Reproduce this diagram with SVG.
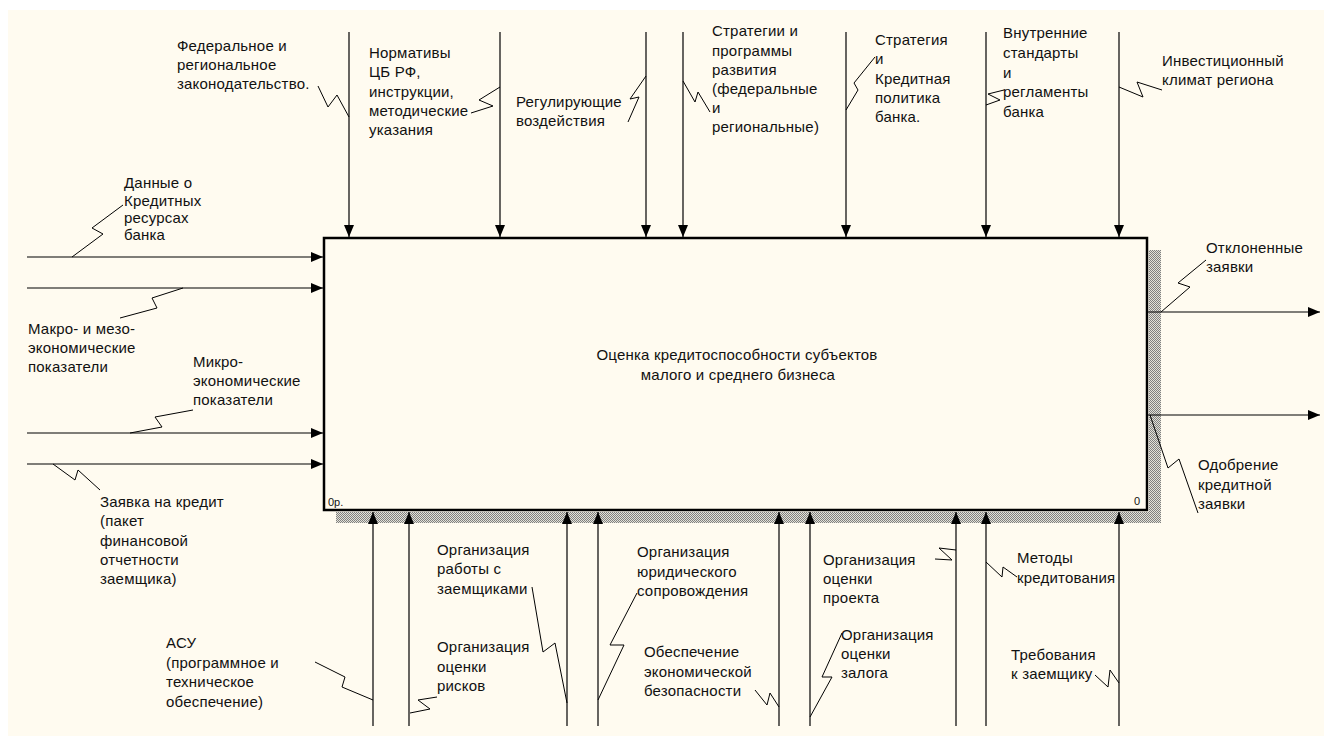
<svg xmlns="http://www.w3.org/2000/svg" width="1324" height="736" viewBox="0 0 1324 736">
<defs>
<style>
text{font-family:"Liberation Sans",Arial,sans-serif;font-size:15px;fill:#111;letter-spacing:0.2px}
.ln{stroke:#000;stroke-width:1.2;fill:none}
.sq{stroke:#000;stroke-width:1;fill:none}
.sm{font-size:11px;letter-spacing:0}
</style>
<marker id="ah" viewBox="0 0 12 10" refX="12" refY="5" markerWidth="12" markerHeight="10" markerUnits="userSpaceOnUse" orient="auto">
<path d="M0,0 L12,5 L0,10 z" fill="#000"/>
</marker>
<pattern id="hatch" width="2" height="2" patternUnits="userSpaceOnUse">
<rect width="2" height="2" fill="#e4e2d8"/>
<rect width="1" height="1" fill="#808080"/>
<rect x="1" y="1" width="1" height="1" fill="#808080"/>
</pattern>
</defs>
<rect width="1324" height="736" fill="#fff"/>
<rect x="8" y="10" width="1316" height="726" fill="#fffbf0"/>

<g id="shadow">
<rect x="1149" y="250" width="12" height="273" fill="url(#hatch)"/>
<rect x="336" y="512" width="825" height="11" fill="url(#hatch)"/>
</g>

<g id="node-A0">
<rect x="324" y="238" width="823" height="272" fill="#fffbf0" stroke="#000" stroke-width="2.5"/>
<text x="737" y="360" text-anchor="middle">Оценка кредитоспособности субъектов</text>
<text x="738" y="380" text-anchor="middle">малого и среднего бизнеса</text>
<text class="sm" x="328" y="506">0р.</text>
<text class="sm" x="1134" y="505">0</text>
</g>

<g id="connectors">
<!-- controls (top) -->
<g id="c1">
<line class="ln" x1="349" y1="32" x2="349" y2="237" marker-end="url(#ah)"/>
<polyline class="sq" points="318,86 328,107 337,95 349,117"/>
<text x="177" y="51">Федеральное и</text>
<text x="177" y="70">региональное</text>
<text x="177" y="89">законодательство.</text>
</g>
<g id="c2">
<line class="ln" x1="500" y1="32" x2="500" y2="237" marker-end="url(#ah)"/>
<polyline class="sq" points="471,113 493,106 479,100 500,87"/>
<text x="369" y="58">Нормативы</text>
<text x="369" y="77">ЦБ РФ,</text>
<text x="369" y="97">инструкции,</text>
<text x="369" y="116">методические</text>
<text x="369" y="135">указания</text>
</g>
<g id="c3">
<line class="ln" x1="646" y1="32" x2="646" y2="237" marker-end="url(#ah)"/>
<polyline class="sq" points="628,122 639,97 630,99 646,76"/>
<text x="516" y="107">Регулирующие</text>
<text x="516" y="126">воздействия</text>
</g>
<g id="c4">
<line class="ln" x1="683" y1="32" x2="683" y2="237" marker-end="url(#ah)"/>
<polyline class="sq" points="683,81 695,102 698,92 710,112"/>
<text x="712" y="36">Стратегии и</text>
<text x="712" y="56">программы</text>
<text x="712" y="75">развития</text>
<text x="712" y="94">(федеральные</text>
<text x="712" y="113">и</text>
<text x="712" y="132">региональные)</text>
</g>
<g id="c5">
<line class="ln" x1="846" y1="32" x2="846" y2="237" marker-end="url(#ah)"/>
<polyline class="sq" points="846,110 858,90 854,83 875,57"/>
<text x="875" y="45">Стратегия</text>
<text x="875" y="64">и</text>
<text x="875" y="84">Кредитная</text>
<text x="875" y="103">политика</text>
<text x="875" y="122">банка.</text>
</g>
<g id="c6">
<line class="ln" x1="986" y1="32" x2="986" y2="237" marker-end="url(#ah)"/>
<polyline class="sq" points="986,105 1000,100 988,94 1004,90"/>
<text x="1003" y="38">Внутренние</text>
<text x="1003" y="58">стандарты</text>
<text x="1003" y="78">и</text>
<text x="1003" y="97">регламенты</text>
<text x="1003" y="117">банка</text>
</g>
<g id="c7">
<line class="ln" x1="1119" y1="32" x2="1119" y2="237" marker-end="url(#ah)"/>
<polyline class="sq" points="1119,87 1143,97 1137,82 1162,90"/>
<text x="1162" y="66">Инвестиционный</text>
<text x="1162" y="85">климат региона</text>
</g>

<!-- inputs (left) -->
<g id="i1">
<line class="ln" x1="27" y1="257" x2="323" y2="257" marker-end="url(#ah)"/>
<polyline class="sq" points="123,205 92,228 103,234 72,257"/>
<text x="124" y="188">Данные о</text>
<text x="124" y="206">Кредитных</text>
<text x="124" y="223">ресурсах</text>
<text x="124" y="240">банка</text>
</g>
<g id="i2">
<line class="ln" x1="27" y1="288" x2="323" y2="288" marker-end="url(#ah)"/>
<polyline class="sq" points="183,288 152,298 157,308 120,318"/>
<text x="28" y="334">Макро- и мезо-</text>
<text x="28" y="353">экономические</text>
<text x="28" y="372">показатели</text>
</g>
<g id="i3">
<line class="ln" x1="27" y1="433" x2="323" y2="433" marker-end="url(#ah)"/>
<polyline class="sq" points="193,410 155,417 162,427 130,433"/>
<text x="193" y="367">Микро-</text>
<text x="193" y="386">экономические</text>
<text x="193" y="405">показатели</text>
</g>
<g id="i4">
<line class="ln" x1="27" y1="464" x2="323" y2="464" marker-end="url(#ah)"/>
<polyline class="sq" points="53,464 75,480 78,470 100,490"/>
<text x="100" y="507">Заявка на кредит</text>
<text x="100" y="526">(пакет</text>
<text x="100" y="546">финансовой</text>
<text x="100" y="565">отчетности</text>
<text x="100" y="584">заемщика)</text>
</g>

<!-- outputs (right) -->
<g id="o1">
<line class="ln" x1="1148" y1="312" x2="1320" y2="312" marker-end="url(#ah)"/>
<polyline class="sq" points="1206,260 1178,283 1190,287 1161,312"/>
<text x="1206" y="253">Отклоненные</text>
<text x="1206" y="272">заявки</text>
</g>
<g id="o2">
<line class="ln" x1="1148" y1="415" x2="1320" y2="415" marker-end="url(#ah)"/>
<polyline class="sq" points="1150,415 1168,468 1179,459 1198,513"/>
<text x="1198" y="470">Одобрение</text>
<text x="1198" y="490">кредитной</text>
<text x="1198" y="509">заявки</text>
</g>

<!-- mechanisms (bottom) -->
<g id="m1">
<line class="ln" x1="373" y1="726" x2="373" y2="512" marker-end="url(#ah)"/>
<polyline class="sq" points="315,662 345,677 342,687 373,700"/>
<text x="166" y="648">АСУ</text>
<text x="166" y="668">(программное и</text>
<text x="166" y="687">техническое</text>
<text x="166" y="707">обеспечение)</text>
</g>
<g id="m2">
<line class="ln" x1="409" y1="726" x2="409" y2="512" marker-end="url(#ah)"/>
<polyline class="sq" points="437,697 418,700 430,709 410,713"/>
<text x="437" y="652">Организация</text>
<text x="437" y="672">оценки</text>
<text x="437" y="691">рисков</text>
</g>
<g id="m3">
<line class="ln" x1="567" y1="726" x2="567" y2="512" marker-end="url(#ah)"/>
<polyline class="sq" points="532,587 543,652 555,643 567,703"/>
<text x="437" y="555">Организация</text>
<text x="437" y="574">работы с</text>
<text x="437" y="594">заемщиками</text>
</g>
<g id="m4">
<line class="ln" x1="598" y1="726" x2="598" y2="512" marker-end="url(#ah)"/>
<polyline class="sq" points="637,593 610,645 624,645 598,700"/>
<text x="637" y="557">Организация</text>
<text x="637" y="577">юридического</text>
<text x="637" y="596">сопровождения</text>
</g>
<g id="m5">
<line class="ln" x1="779" y1="726" x2="779" y2="512" marker-end="url(#ah)"/>
<polyline class="sq" points="755,690 767,705 770,693 779,707"/>
<text x="644" y="657">Обеспечение</text>
<text x="644" y="677">экономической</text>
<text x="644" y="696">безопасности</text>
</g>
<g id="m6">
<line class="ln" x1="810" y1="726" x2="810" y2="512" marker-end="url(#ah)"/>
<polyline class="sq" points="842,633 822,677 832,677 810,717"/>
<text x="841" y="640">Организация</text>
<text x="841" y="659">оценки</text>
<text x="841" y="678">залога</text>
</g>
<g id="m7">
<line class="ln" x1="956" y1="726" x2="956" y2="512" marker-end="url(#ah)"/>
<polyline class="sq" points="935,559 952,560 939,548 956,550"/>
<text x="823" y="565">Организация</text>
<text x="823" y="584">оценки</text>
<text x="823" y="603">проекта</text>
</g>
<g id="m8">
<line class="ln" x1="986" y1="726" x2="986" y2="512" marker-end="url(#ah)"/>
<polyline class="sq" points="986,562 1002,577 1003,567 1017,577"/>
<text x="1017" y="563">Методы</text>
<text x="1017" y="583">кредитования</text>
</g>
<g id="m9">
<line class="ln" x1="1119" y1="726" x2="1119" y2="512" marker-end="url(#ah)"/>
<polyline class="sq" points="1095,675 1108,687 1110,670 1119,683"/>
<text x="1011" y="660">Требования</text>
<text x="1011" y="679">к заемщику</text>
</g>
</g>
</svg>
